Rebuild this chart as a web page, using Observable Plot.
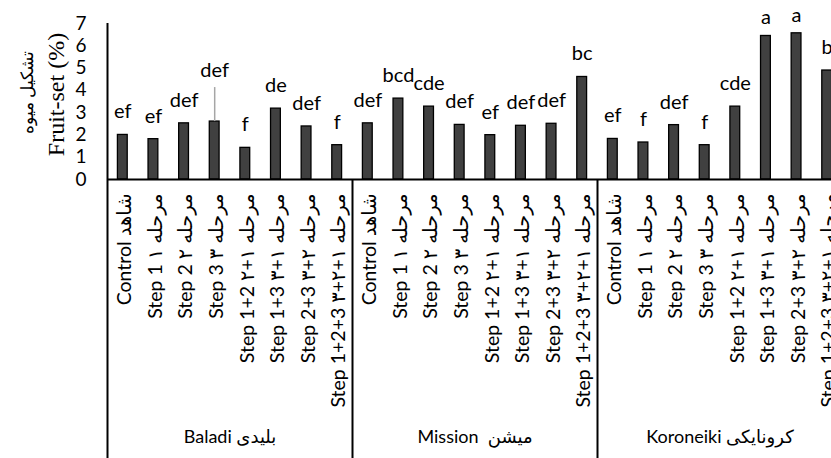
<!DOCTYPE html>
<html><head><meta charset="utf-8">
<script src="https://cdn.jsdelivr.net/npm/d3@7"></script>
<script src="https://cdn.jsdelivr.net/npm/@observablehq/plot@0.6"></script>
<style>html,body{margin:0;padding:0;background:#fff;overflow:hidden}</style>
</head><body><div id="chart"></div>
<script>
const cultivars = ["Baladi بلیدی", "Mission  میشن", "Koroneiki کرونایکی"];
const treatments = ["Control شاهد", "Step 1 مرحله ۱", "Step 2 مرحله ۲", "Step 3 مرحله ۳", "Step 1+2 مرحله ۱+۲", "Step 1+3 مرحله ۱+۳", "Step 2+3 مرحله ۲+۳", "Step 1+2+3 مرحله ۱+۲+۳"];
const baladiValues = [2.0, 1.81, 2.52, 2.6, 1.42, 3.18, 2.38, 1.54];
const missionValues = [2.52, 3.63, 3.27, 2.45, 1.99, 2.41, 2.5, 4.6];
const koroneikiValues = [1.82, 1.66, 2.44, 1.54, 3.27, 6.44, 6.56, 4.89];
const baladiLetters = ["ef", "ef", "def", "def", "f", "de", "def", "f"];
const missionLetters = ["def", "bcd", "cde", "def", "ef", "def", "def", "bc"];
const koroneikiLetters = ["ef", "f", "def", "f", "cde", "a", "a", "b"];
const yTicks = [0, 1, 2, 3, 4, 5, 6, 7];
const yLabelEn = "Fruit-set (%)";
const yLabelFa = "تشکیل میوه";
const calloutBars = ["Baladi بلیدی|Step 3 مرحله ۳"];

const valueSets = [baladiValues, missionValues, koroneikiValues];
const letterSets = [baladiLetters, missionLetters, koroneikiLetters];
const rows = [];
cultivars.forEach((c, gi) => treatments.forEach((t, ti) => rows.push({
  key: c + "|" + t, cultivar: c, treatment: t, value: valueSets[gi][ti], letter: letterSets[gi][ti]
})));
const keys = rows.map(d => d.key);
const groupStarts = cultivars.map(c => c + "|" + treatments[0]);
const groupMids = cultivars.map(c => ({key: c + "|" + treatments[3], name: c}));

const W = 831, H = 458, ML = 107, MR = -11, MT = 23, MB = 279;
const step = (W - ML - MR) / keys.length;
const isCallout = d => calloutBars.includes(d.key);
const nearTop = d => d.value > 6.2;

const chart = Plot.plot({
  width: W, height: H,
  marginLeft: ML, marginRight: MR, marginTop: MT, marginBottom: MB,
  style: {fontFamily: "Lato, 'DejaVu Sans', sans-serif", fontSize: "19px", color: "#000", background: "#fff"},
  x: {domain: keys, axis: null, paddingInner: 0.68, paddingOuter: 0.34, align: 0.5, round: false},
  y: {domain: [0, 7], ticks: yTicks, tickSize: 0, tickPadding: 21, label: null, tickFormat: d3.format("d")},
  marks: [
    Plot.barY(rows, {x: "key", y: "value", fill: "#404040", stroke: "#000", strokeWidth: 1.3}),
    Plot.ruleY([0], {stroke: "#000", strokeWidth: 2}),
    Plot.ruleX([keys[0]], {x: d => d, dx: -step / 2, y1: 0, y2: 7, stroke: "#000", strokeWidth: 2}),
    Plot.ruleX(groupStarts, {x: d => d, dx: -step / 2, y1: 0, y2: 0, insetBottom: -MB, stroke: "#000", strokeWidth: 2}),
    Plot.text(rows.filter(d => !isCallout(d) && !nearTop(d)), {x: "key", y: "value", text: "letter", dy: -23, fontSize: 20}),
    Plot.text(rows.filter(d => !isCallout(d) && nearTop(d)), {x: "key", y: "value", text: "letter", dy: -18, fontSize: 20}),
    Plot.ruleX(rows.filter(isCallout), {x: "key", y1: "value", y2: "value", insetTop: -34, stroke: "#a6a6a6", strokeWidth: 1.5}),
    Plot.text(rows.filter(isCallout), {x: "key", y: "value", text: "letter", dy: -51, fontSize: 20}),
    Plot.text(rows, {x: "key", y: 0, text: "treatment", rotate: -90, textAnchor: "end", dy: 14, dx: 2, fontSize: 19.5}),
    Plot.text(groupMids, {x: "key", y: 0, text: "name", dx: step / 2, dy: 258, fontSize: 18}),
    Plot.text([yLabelEn], {frameAnchor: "left", text: d => d, rotate: -90, textAnchor: "middle", dx: -51, dy: -7, fontFamily: "'Liberation Serif', serif", fontSize: 24}),
    Plot.text([yLabelFa], {frameAnchor: "left", text: d => d, rotate: -90, textAnchor: "middle", dx: -80, dy: -9, fontFamily: "'Liberation Serif', 'DejaVu Serif', serif", fontSize: 17})
  ]
});
document.getElementById("chart").appendChild(chart);
</script>
</body></html>
